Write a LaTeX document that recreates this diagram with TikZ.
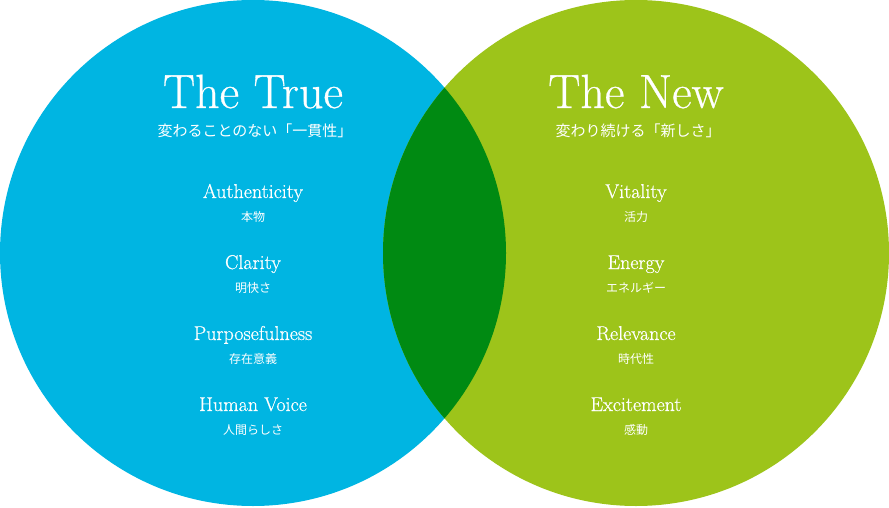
\documentclass[tikz,border=0pt]{standalone}
\usepackage{fontspec}
\newfontfamily\jpfont{Noto Sans CJK JP}
\newfontfamily\romanfont{Latin Modern Roman}[UprightFeatures={FakeBold=0.6}]
\definecolor{trueblue}{RGB}{0,181,226}
\definecolor{newgreen}{RGB}{157,196,26}
\definecolor{bothgreen}{RGB}{0,138,18}

\begin{document}
\begin{tikzpicture}[
                x=1pt,y=1pt,
                title/.style={text=white,anchor=base,font=\romanfont\fontsize{48}{48}\selectfont},
                subtitle/.style={text=white,font=\jpfont\fontsize{15}{15}\selectfont},
                item/.style={text=white,anchor=base,font=\romanfont\fontsize{20}{20}\selectfont},
                itemjp/.style={text=white,font=\jpfont\fontsize{12}{12}\selectfont}
                ]
                \useasboundingbox (0,0) rectangle (889,507);
                \fill[trueblue] (253,254) circle[radius=253pt];
                \fill[newgreen] (636,254) circle[radius=253pt];
                \begin{scope}
                \clip (253,254) circle[radius=253pt];
                \fill[bothgreen] (636,254) circle[radius=253pt];
                \end{scope}
                \node[title] (truetitle) at (253,399) {The True};
                \node[subtitle] (truesub) at (255,376) {変わることのない「一貫性」};
                \node[title] (newtitle) at (636,399) {The New};
                \node[subtitle] (newsub) at (638,376) {変わり続ける「新しさ」};
                \foreach \en/\jp [count=\i] in {Authenticity/本物,Clarity/明快さ,Purposefulness/存在意義,Human Voice/人間らしさ} {
                    \node[item] (true\i) at (253,{309-71*(\i-1)}) {\en};
                    \node[itemjp] (truejp\i) at (253,{290-71*(\i-1)}) {\jp};
                }
                \foreach \en/\jp [count=\i] in {Vitality/活力,Energy/エネルギー,Relevance/時代性,Excitement/感動} {
                    \node[item] (new\i) at (636,{309-71*(\i-1)}) {\en};
                    \node[itemjp] (newjp\i) at (636,{290-71*(\i-1)}) {\jp};
                }
                \end{tikzpicture}
\end{document}
